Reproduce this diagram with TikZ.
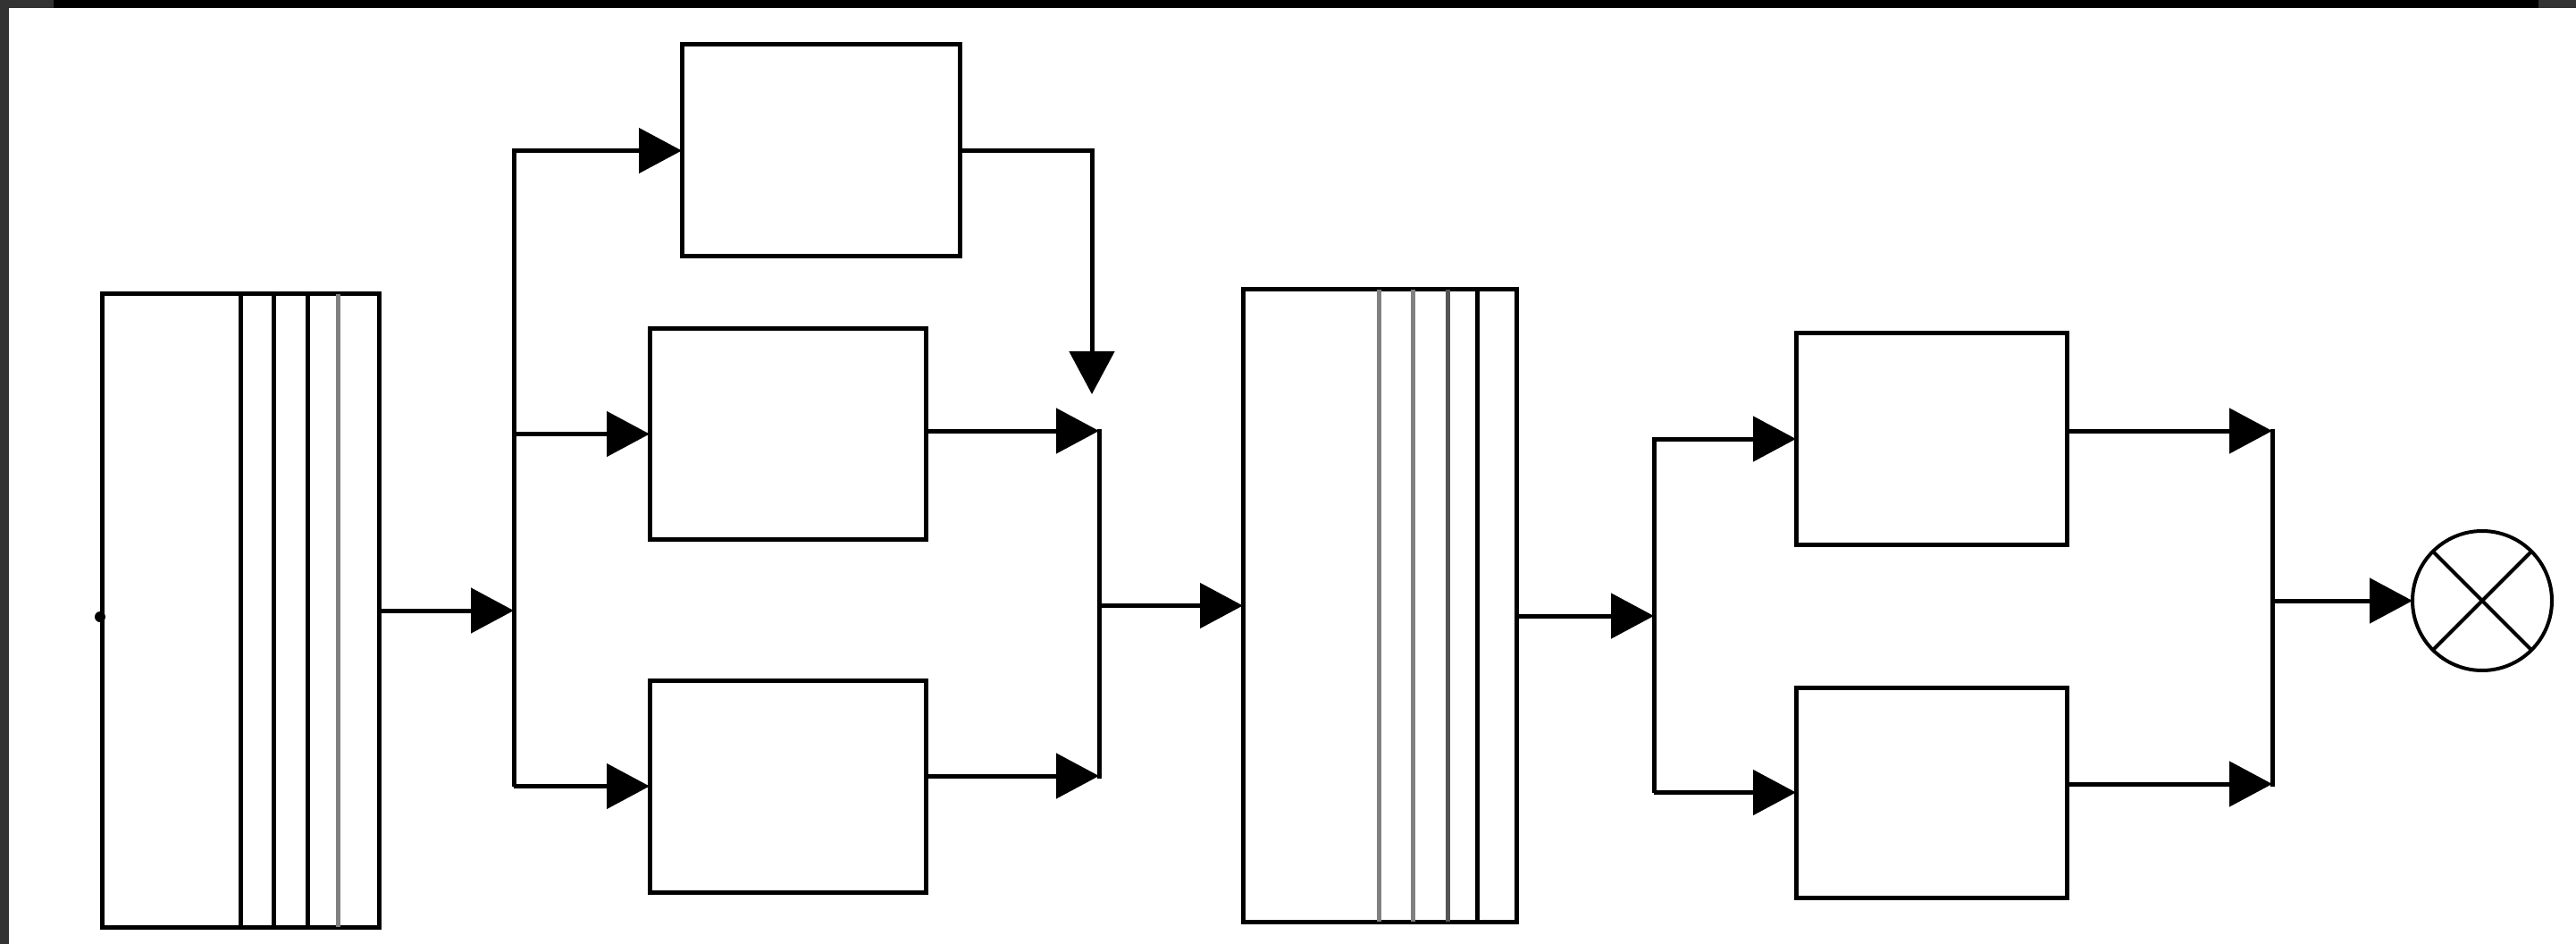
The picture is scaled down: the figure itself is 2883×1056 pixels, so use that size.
\documentclass[tikz,border=0pt]{standalone}
\usetikzlibrary{arrows.meta}
\definecolor{frame}{HTML}{333333}
\definecolor{midgray}{HTML}{808080}
\definecolor{darkgray}{HTML}{555555}
\begin{document}
\begin{tikzpicture}[x=1pt,y=-1pt,
  wire/.style={line width=5pt,line cap=rect},
  arr/.style={line width=5pt,-{Triangle[length=48pt,width=50pt]}},
  blk/.style={draw,line width=5pt,rectangle,inner sep=0pt,outer sep=0pt,anchor=north west},
  bar/.style={line width=5pt}
]
% canvas and frame edges
\fill[white] (0,0) rectangle (2883,1056);
\useasboundingbox (0,0) rectangle (2883,1056);
\fill[black] (0,0) rectangle (2883,9);
\fill[frame] (0,0) rectangle (60,9);
\fill[frame] (2841,0) rectangle (2883,9);
\fill[frame] (0,0) rectangle (10,1056);

% blocks
\node[blk,minimum width=310pt,minimum height=708pt] (L) at (114,329) {};
\node[blk,minimum width=311pt,minimum height=237pt] (B1) at (763,50) {};
\node[blk,minimum width=309pt,minimum height=235pt] (B2) at (727,368) {};
\node[blk,minimum width=309pt,minimum height=237pt] (B3) at (727,761) {};
\node[blk,minimum width=306pt,minimum height=707pt] (M) at (1391,324) {};
\node[blk,minimum width=303pt,minimum height=236pt] (B4) at (2010,373) {};
\node[blk,minimum width=303pt,minimum height=235pt] (B5) at (2010,769) {};
\node[draw,circle,line width=4pt,minimum size=156pt,inner sep=0pt,outer sep=0pt] (C) at (2778,672) {};
\draw[line width=4pt] (C.north west) -- (C.south east) (C.north east) -- (C.south west);

% stripes inside the tall blocks
\draw[bar] (L.north -| 269,0) -- (L.south -| 269,0);
\draw[bar] (L.north -| 306,0) -- (L.south -| 306,0);
\draw[bar] (L.north -| 344,0) -- (L.south -| 344,0);
\draw[bar,midgray] (L.north -| 378,0) -- (L.south -| 378,0);
\draw[bar,midgray] (M.north -| 1543,0) -- (M.south -| 1543,0);
\draw[bar,midgray] (M.north -| 1581,0) -- (M.south -| 1581,0);
\draw[bar,darkgray] (M.north -| 1620,0) -- (M.south -| 1620,0);
\draw[bar] (M.north -| 1653,0) -- (M.south -| 1653,0);

% input mark
\coordinate (dot) at (112,690);
\fill (dot) circle (6pt);

% first fan-out
\coordinate (j1) at (575,683);
\draw[arr] (L.east) -- (j1);
\draw[arr] (j1 |- B3.west) -- (j1 |- B1.west) -- (B1.west);
\draw[arr] (j1 |- B2.west) -- (B2.west);
\draw[arr] (j1 |- B3.west) -- (B3.west);

% first merge
\coordinate (d1) at (1222,441);
\coordinate (m2) at (1230,482);
\coordinate (m3) at (1230,868);
\draw[arr] (B1.east) -| (d1);
\draw[arr] (B2.east |- m2) -- (m2);
\draw[arr] (B3.east |- m3) -- (m3);
\draw[wire] (m2) -- (m3);
\draw[arr] (m2 |- M.west) -- (M.west);

% second fan-out
\coordinate (j2) at (1851,689);
\draw[arr] (M.east |- j2) -- (j2);
\draw[arr] (j2 |- B5.west) -- (j2 |- B4.west) -- (B4.west);
\draw[arr] (j2 |- B5.west) -- (B5.west);

% second merge into the product node
\coordinate (n4) at (2543,482);
\coordinate (n5) at (2543,877);
\draw[arr] (B4.east |- n4) -- (n4);
\draw[arr] (B5.east |- n5) -- (n5);
\draw[wire] (n4) -- (n5);
\draw[arr] (n4 |- C.west) -- (C.west);
\end{tikzpicture}
\end{document}
